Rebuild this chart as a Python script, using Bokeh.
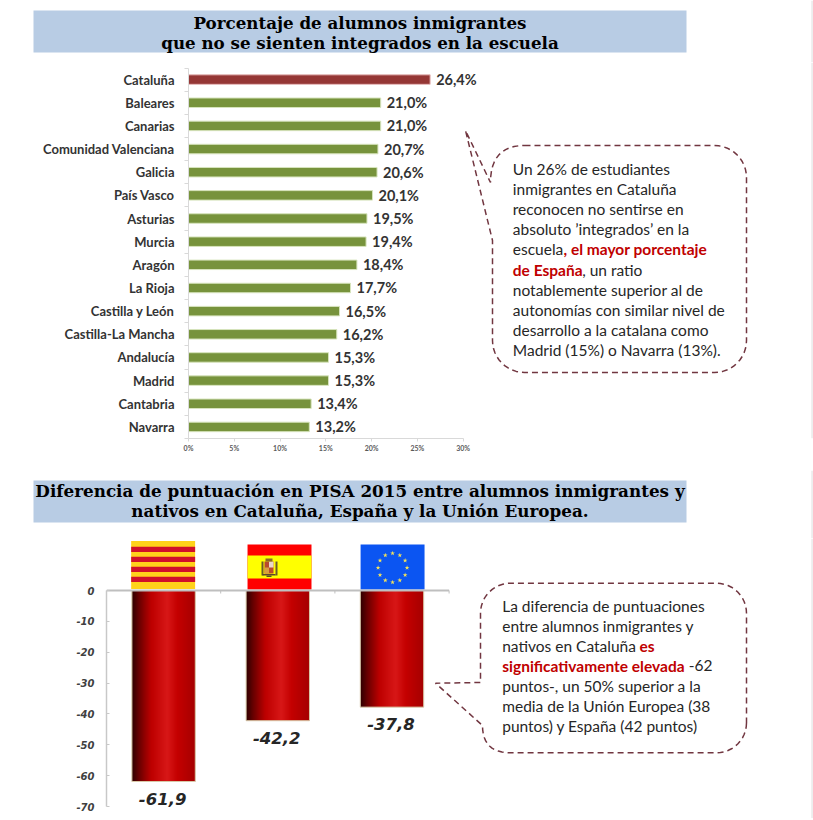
import math
import numpy as np
from bokeh.plotting import figure
from bokeh.layouts import column
from bokeh.models import Range1d, FixedTicker, LinearAxis
from bokeh.core.properties import value
from bokeh.embed import file_html
from bokeh.resources import INLINE

# ---------- data ----------
regions = ["Cataluña", "Baleares", "Canarias", "Comunidad Valenciana", "Galicia", "País Vasco",
           "Asturias", "Murcia", "Aragón", "La Rioja", "Castilla y León", "Castilla-La Mancha",
           "Andalucía", "Madrid", "Cantabria", "Navarra"]
pct_values = [26.4, 21.0, 21.0, 20.7, 20.6, 20.1, 19.5, 19.4, 18.4, 17.7, 16.5, 16.2, 15.3, 15.3, 13.4, 13.2]
pct_labels = ["26,4%", "21,0%", "21,0%", "20,7%", "20,6%", "20,1%", "19,5%", "19,4%", "18,4%", "17,7%",
              "16,5%", "16,2%", "15,3%", "15,3%", "13,4%", "13,2%"]
pct_ticks = [0, 5, 10, 15, 20, 25, 30]
areas = ["Cataluña", "España", "Unión Europea"]
gap_values = [-61.9, -42.2, -37.8]
gap_labels = ["-61,9", "-42,2", "-37,8"]
gap_ticks = [0, -10, -20, -30, -40, -50, -60, -70]
gap_tick_labels = ["0", "-10", "-20", "-30", "-40", "-50", "-60", "-70"]

title1 = ["Porcentaje de alumnos inmigrantes", "que no se sienten integrados en la escuela"]
title2 = ["Diferencia de puntuación en PISA 2015 entre alumnos inmigrantes y",
          "nativos en Cataluña, España y la Unión Europea."]

W = 813
LEFT, RIGHT = 0, 813
DARK = "#262626"
RED = "#C00000"
DASH = "#713640"
STRIP = "#EDEDED"
SANS = value("Lato")
SERIF = value("DejaVu Serif")


def fig(w, h, x_range, y_range, **kw):
    p = figure(width=w, height=h, x_range=x_range, y_range=y_range, output_backend="svg",
               toolbar_location=None, x_axis_type=None, y_axis_type=None, frame_align=False, **kw)
    p.outline_line_color = None
    p.grid.visible = False
    p.background_fill_color = "white"
    return p


def banner(top, bottom, y0, y1, lines, ys, size):
    p = fig(W, bottom - top, Range1d(LEFT, RIGHT), Range1d(bottom, top),
            min_border_left=0, min_border_right=0, min_border_top=0, min_border_bottom=0)
    p.quad(left=[33], right=[686], top=[y0], bottom=[y1], fill_color="#B8CCE4", line_color=None)
    p.quad(left=[810.7], right=[813], top=[top], bottom=[bottom], fill_color=STRIP, line_color=None)
    p.text(x=[359.5] * 2, y=ys, text=lines, text_align="center", text_baseline="middle",
           text_font=SERIF, text_font_style="bold", text_font_size=size, text_color="black")
    return p


def arc(cx, cy, rad, a0, a1):
    return [(cx + rad * math.cos(math.radians(a0 + (a1 - a0) * i / 12)),
             cy + rad * math.sin(math.radians(a0 + (a1 - a0) * i / 12))) for i in range(13)]


def draw_path(p, pts, **names):
    p.line([a for a, _ in pts], [c for _, c in pts], line_color=DASH, line_width=1.5,
           line_dash="6 4", **names)


def rich(p, items, size, **names):
    for x, y, txt, bold in items:
        p.text(x=[x], y=[y], text=[txt], text_align="left", text_baseline="middle",
               text_font=SANS, text_font_size=size,
               text_font_style="bold" if bold else "normal",
               text_color=RED if bold else DARK, **names)


# ---------- banner 1 : page y 0..62 ----------
b1 = banner(0, 62, 10, 52, title1, [22, 42], "16.7px")

# ---------- chart 1 : frame page y 62..438, x 188..813 ----------
pitch = 23.13
px_per_pct = 9.153
x_end = (RIGHT - 188) / px_per_pct
c1 = fig(W, 408, Range1d(0, x_end), Range1d(15.5, -0.5 - 5.5 / pitch),
         min_border_left=188, min_border_right=0, min_border_top=0, min_border_bottom=32)
c1.extra_x_ranges = {"px": Range1d(188, RIGHT)}
c1.extra_y_ranges = {"px": Range1d(438, 62)}
ys = list(range(len(regions)))
bar_colors = ["#953735"] + ["#77933C"] * (len(regions) - 1)
edge_colors = ["#E6B9B8"] + ["#D7E4BD"] * (len(regions) - 1)
c1.hbar(y=ys, left=0, right=pct_values, height=0.41, fill_color=bar_colors, line_color=edge_colors, line_width=1)
c1.text(x=pct_values, y=ys, text=pct_labels, x_offset=6, y_offset=0, text_baseline="middle",
        text_font=SANS, text_font_style="bold", text_font_size="14.5px", text_color="#333333")

xax = LinearAxis(ticker=FixedTicker(ticks=pct_ticks), bounds=(0, 30))
xax.major_label_overrides = {t: f"{t}%" for t in pct_ticks}
xax.axis_line_color = "#D9D9D9"
xax.major_tick_line_color = "#D9D9D9"
xax.major_tick_out = 3
xax.major_tick_in = 0
xax.minor_tick_line_color = None
xax.major_label_standoff = 2
xax.major_label_text_font = "Lato"
xax.major_label_text_font_size = "7px"
xax.major_label_text_font_style = "bold"
xax.major_label_text_color = "#595959"
c1.add_layout(xax, "below")

yax = LinearAxis(ticker=FixedTicker(ticks=ys, minor_ticks=[i - 0.5 for i in range(len(regions) + 1)]),
                 bounds=(-0.5, 15.5))
yax.major_label_overrides = {i: r for i, r in enumerate(regions)}
yax.axis_line_color = "#D9D9D9"
yax.major_tick_line_color = None
yax.major_tick_out = 0
yax.major_tick_in = 0
yax.minor_tick_line_color = "#D9D9D9"
yax.minor_tick_out = 4
yax.minor_tick_in = 0
yax.major_label_standoff = 10
yax.major_label_text_font = "Lato"
yax.major_label_text_font_size = "13px"
yax.major_label_text_font_style = "bold"
yax.major_label_text_color = "#333333"
c1.add_layout(yax, "left")

names = dict(x_range_name="px", y_range_name="px")
c1.quad(left=[810.7], right=[813], top=[62], bottom=[438], fill_color=STRIP, line_color=None, **names)

# speech bubble 1
l, r, t, b, rad = 492, 746, 145, 372, 32
pts = [(l + rad, t), (r - rad, t)] + arc(r - rad, t + rad, rad, -90, 0) + arc(r - rad, b - rad, rad, 0, 90) \
    + arc(l + rad, b - rad, rad, 90, 180) + [(492, 240), (465, 130), (490, 182)]
x0, y0 = 490, 182
for i in range(1, 13):
    u = i / 12
    pts.append(((1 - u) ** 2 * x0 + 2 * u * (1 - u) * x0 + u * u * (l + rad),
                (1 - u) ** 2 * y0 + 2 * u * (1 - u) * t + u * u * t))
draw_path(c1, pts, **names)

tx, ly = 512.3, 168.5
step = 20.1
rich(c1, [
    (tx, ly, "Un 26% de estudiantes", False),
    (tx, ly + step, "inmigrantes en Cataluña", False),
    (tx, ly + 2 * step, "reconocen no sentirse en", False),
    (tx, ly + 3 * step, "absoluto ’integrados’ en la", False),
    (tx, ly + 4 * step, "escuela", False),
    (563, ly + 4 * step, ", el mayor porcentaje", True),
    (tx, ly + 5 * step, "de España", True),
    (581.7, ly + 5 * step, ", un ratio", False),
    (tx, ly + 6 * step, "notablemente superior al de", False),
    (tx, ly + 7 * step, "autonomías con similar nivel de", False),
    (tx, ly + 8 * step, "desarrollo a la catalana como", False),
    (tx, ly + 9 * step, "Madrid (15%) o Navarra (13%).", False),
], "15.5px", **names)

# ---------- banner 2 : page y 470..538 ----------
b2 = banner(470, 538, 480, 522, title2, [490.5, 510.5], "16.8px")

# ---------- chart 2 : frame page y 538..818, zero at 590, -70 at 806 ----------
unit = 114.2
x2_end = (RIGHT - 106) / unit
px_per_point = 216 / 70
c2 = fig(W, 280, Range1d(0, x2_end), Range1d(-70 - 12 / px_per_point, 52 / px_per_point),
         min_border_left=106, min_border_right=0, min_border_top=0, min_border_bottom=0)
c2.extra_x_ranges = {"px": Range1d(106, RIGHT)}
c2.extra_y_ranges = {"px": Range1d(818, 538)}
c2.quad(left=[810.7], right=[813], top=[538], bottom=[818], fill_color=STRIP, line_color=None, **names)

centers = [i + 0.5 for i in range(len(areas))]

# flags, standing on the zero line
flag_w = 0.56
cx, sx, ex = centers[0] - 0.004, centers[1] + 0.015, centers[2] + 0.005
c2.quad(left=[cx - flag_w / 2], right=[cx + flag_w / 2], top=[540.5], bottom=[588.5], fill_color="#FFD21A",
        line_color=None, y_range_name="px")
for k in range(4):
    y = 546.3 + k * 10
    c2.quad(left=[cx - flag_w / 2], right=[cx + flag_w / 2], top=[y], bottom=[y + 5.3], fill_color="#D0102A",
            line_color=None, y_range_name="px")
c2.quad(left=[sx - flag_w / 2], right=[sx + flag_w / 2], top=[544], bottom=[589], fill_color="#FF0000",
        line_color=None, y_range_name="px")
c2.quad(left=[sx - flag_w / 2], right=[sx + flag_w / 2], top=[555], bottom=[578], fill_color="#FFFF00",
        line_color=None, y_range_name="px")
# coat of arms
c2.quad(left=[264], right=[273], top=[561], bottom=[573], fill_color="#B84A2E", line_color=None, **names)
c2.quad(left=[268.5], right=[273], top=[561], bottom=[567], fill_color="#E8D8C8", line_color=None, **names)
c2.quad(left=[264], right=[268.5], top=[567], bottom=[573], fill_color="#D8A040", line_color=None, **names)
c2.quad(left=[261, 275], right=[263, 277], top=[561, 561], bottom=[575, 575], fill_color="#6B5A2A", line_color=None, **names)
c2.quad(left=[265], right=[272], top=[558], bottom=[561], fill_color="#8A6A2A", line_color=None, **names)
c2.quad(left=[262, 266], right=[275, 271], top=[573.5, 575], bottom=[575, 576.5], fill_color="#5A4A2A", line_color=None, **names)
# EU
c2.quad(left=[ex - flag_w / 2], right=[ex + flag_w / 2], top=[544], bottom=[589], fill_color="#0B55F2",
        line_color=None, y_range_name="px")
star_x = [ex + 14.5 / unit * math.sin(math.radians(30 * k)) for k in range(12)]
star_y = [567.3 - 14.5 * math.cos(math.radians(30 * k)) for k in range(12)]
c2.scatter(x=star_x, y=star_y, marker="star", size=5, fill_color="#F5E35A", line_color=None, y_range_name="px")

# gradient bars
stops_u = [0.0, 0.12, 0.3, 0.55, 0.72, 1.0]
stops_r = [48, 110, 190, 216, 196, 165]
stops_g = [0, 0, 0, 24, 0, 0]
N = 126
bar_w = 0.555
u = (np.arange(N) + 0.5) / N
rr = np.interp(u, stops_u, stops_r).astype(np.uint32)
gg = np.interp(u, stops_u, stops_g).astype(np.uint32)
rgba = (255 << 24 | gg << 8 | gg << 16 | rr).astype(np.uint32).reshape(1, N)
for c, v in zip(centers, gap_values):
    c2.image_rgba(image=[rgba], x=[c - bar_w / 2], y=[v], dw=[bar_w], dh=[-v])
c2.vbar(x=centers, width=bar_w, top=0, bottom=gap_values, fill_color=None, line_color="#D8C8A8", line_width=1)
c2.text(x=centers, y=gap_values, text=gap_labels, x_offset=-1, y_offset=17, text_align="center", text_baseline="middle",
        text_font=value("DejaVu Sans"), text_font_style="bold italic", text_font_size="16.5px", text_color="#262626")

# zero line with its ticks between the categories
zero_x = [0, 1, 2, 3]
c2.segment(x0=[zero_x[0]], x1=[zero_x[-1]], y0=[0], y1=[0], line_color="#BFBFBF", line_width=2)
c2.segment(x0=zero_x[1:], x1=zero_x[1:], y0=0, y1=-3 / px_per_point, line_color="#BFBFBF", line_width=1)

lax = LinearAxis(ticker=FixedTicker(ticks=gap_ticks), bounds=(-70, 0))
lax.major_label_overrides = dict(zip(gap_ticks, gap_tick_labels))
lax.axis_line_color = "#C8C8C8"
lax.axis_line_width = 1.5
lax.major_tick_line_color = "#C8C8C8"
lax.major_tick_in = 3
lax.major_tick_out = 0
lax.minor_tick_line_color = None
lax.major_label_standoff = 12
lax.major_label_text_font = "DejaVu Sans"
lax.major_label_text_font_size = "10px"
lax.major_label_text_font_style = "bold italic"
lax.major_label_text_color = "#404040"
c2.add_layout(lax, "left")

# speech bubble 2
l, r, t, b, rad = 480, 746, 582.7, 752.3, 30
pts = arc(r - rad, b - rad, rad, 0, 90)
x0, y0, x2, y2 = l + rad, b, 482, 725
for i in range(0, 13):
    u2 = i / 12
    pts.append(((1 - u2) ** 2 * x0 + 2 * u2 * (1 - u2) * x2 + u2 * u2 * x2,
                (1 - u2) ** 2 * y0 + 2 * u2 * (1 - u2) * y0 + u2 * u2 * y2))
pts += [(435, 682.7), (l, 682)] + arc(l + rad, t + rad, rad, 180, 270) + arc(r - rad, t + rad, rad, -90, 0)
pts.append((r, b - rad))
draw_path(c2, pts, **names)

tx2 = 501.7
rich(c2, [
    (tx2, 605, "La diferencia de puntuaciones", False),
    (tx2, 625, "entre alumnos inmigrantes y", False),
    (tx2, 645, "nativos en Cataluña", False),
    (639, 645, "es", True),
    (tx2, 665, "significativamente elevada", True),
    (688.3, 665, "-62", False),
    (tx2, 685.5, "puntos-, un 50% superior a la", False),
    (tx2, 705.5, "media de la Unión Europea (38", False),
    (tx2, 725.5, "puntos) y España (42 puntos)", False),
], "15.5px", **names)

# thin dark line closing the page
foot = fig(W, 2, Range1d(0, 1), Range1d(0, 1), min_border_left=0, min_border_right=0, min_border_top=0, min_border_bottom=0)
foot.background_fill_color = "#111111"
foot.border_fill_color = "#111111"

layout = column(b1, c1, b2, c2, foot, spacing=0)
open("out.html", "w").write(file_html(layout, INLINE))
